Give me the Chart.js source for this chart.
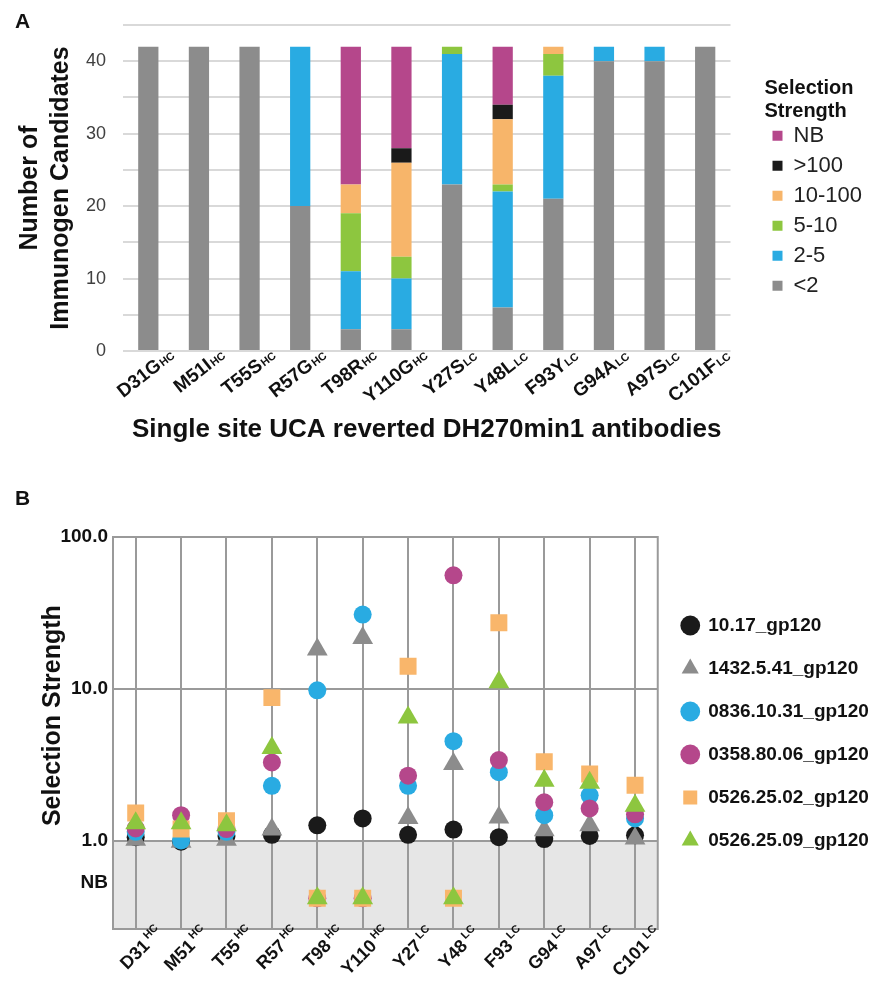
<!DOCTYPE html>
<html>
<head>
<meta charset="utf-8">
<script src="https://cdn.jsdelivr.net/npm/chart.js@4.4.1/dist/chart.umd.min.js"></script>
<style>
  body { margin: 0; background: #fff; }
  #wrap { position: relative; width: 877px; height: 984px; }
  .panel { position: absolute; font: bold 21px "Liberation Sans", Arial, sans-serif; color: #111; }
  canvas { position: absolute; left: 0; }
</style>
</head>
<body>
<div id="wrap">
  <canvas id="chartA" width="877" height="470" style="top:0"></canvas>
  <canvas id="chartB" width="877" height="514" style="top:470px"></canvas>
  <div class="panel" style="left:15px; top:9px">A</div>
  <div class="panel" style="left:15px; top:486px">B</div>
</div>
<script>
// ---- panel A: stacked counts per reverted antibody ----
const mutantsA = ['D31G', 'M51I', 'T55S', 'R57G', 'T98R', 'Y110G', 'Y27S', 'Y48L', 'F93Y', 'G94A', 'A97S', 'C101F'];
const chainA = ['HC', 'HC', 'HC', 'HC', 'HC', 'HC', 'LC', 'LC', 'LC', 'LC', 'LC', 'LC'];
const under2 = [42, 42, 42, 20, 3, 3, 23, 6, 21, 40, 40, 42];
const from2to5 = [0, 0, 0, 22, 8, 7, 18, 16, 17, 2, 2, 0];
const from5to10 = [0, 0, 0, 0, 8, 3, 1, 1, 3, 0, 0, 0];
const from10to100 = [0, 0, 0, 0, 4, 13, 0, 9, 1, 0, 0, 0];
const over100 = [0, 0, 0, 0, 0, 2, 0, 2, 0, 0, 0, 0];
const noBinding = [0, 0, 0, 0, 19, 14, 0, 8, 0, 0, 0, 0];

// ---- panel B: selection strength per immunogen ----
const sitesB = ['D31', 'M51', 'T55', 'R57', 'T98', 'Y110', 'Y27', 'Y48', 'F93', 'G94', 'A97', 'C101'];
const chainB = ['HC', 'HC', 'HC', 'HC', 'HC', 'HC', 'LC', 'LC', 'LC', 'LC', 'LC', 'LC'];
const NB = 0.42;        // plotted value for "no binding"
const NB_TICK = 0.53;   // where the NB label sits
const yTicksB = [NB_TICK, 1, 10, 100];
const gp10_17 = [1.06, 0.99, 1.08, 1.10, 1.27, 1.41, 1.10, 1.19, 1.06, 1.03, 1.08, 1.09];
const gp1432 = [1.02, 0.99, 1.02, 1.19, 18.2, 21.7, 1.42, 3.21, 1.43, 1.18, 1.27, 1.04];
const gp0836 = [1.15, 1.01, 1.15, 2.31, 9.8, 30.9, 2.31, 4.54, 2.84, 1.48, 2.0, 1.41];
const gp0358 = [1.21, 1.48, 1.2, 3.29, NB, NB, 2.69, 56, 3.41, 1.8, 1.64, 1.5];
const gp0526_02 = [1.53, 1.2, 1.36, 8.78, NB, NB, 14.1, NB, 27.3, 3.32, 2.76, 2.33];
const gp0526_09 = [1.31, 1.31, 1.27, 4.1, NB, NB, 6.5, NB, 11.1, 2.49, 2.42, 1.71];

Chart.defaults.font.family = '"Liberation Sans", Arial, sans-serif';

// rotated category labels with a small chain suffix
const rotatedLabels = {
  id: 'rotatedLabels',
  afterDraw(chart, args, opts) {
    const scale = chart.scales.x;
    const ctx = chart.ctx;
    ctx.save();
    ctx.fillStyle = opts.color;
    ctx.textBaseline = 'top';
    opts.labels.forEach((label, i) => {
      ctx.save();
      ctx.translate(scale.getPixelForValue(i) + opts.dx, scale.top + opts.dy);
      ctx.rotate(-opts.angle * Math.PI / 180);
      ctx.font = opts.font;
      ctx.textAlign = 'right';
      ctx.fillText(label, 0, 0);
      ctx.font = opts.subFont;
      ctx.textAlign = 'left';
      ctx.fillText(opts.subs[i], opts.gap, opts.subDy);
      ctx.restore();
    });
    ctx.restore();
  }
};

// grey band below 1.0 and box round the plot
const plotFrame = {
  id: 'plotFrame',
  beforeDraw(chart, args, opts) {
    const { ctx, chartArea: a, scales: { y } } = chart;
    const top = y.getPixelForValue(opts.shadeBelow);
    ctx.save();
    ctx.fillStyle = opts.shade;
    ctx.fillRect(a.left, top, a.right - a.left, a.bottom - top);
    ctx.restore();
  },
  beforeDatasetsDraw(chart, args, opts) {
    const { ctx, chartArea: a } = chart;
    ctx.save();
    ctx.strokeStyle = opts.color;
    ctx.lineWidth = opts.width;
    ctx.strokeRect(a.left, a.top, a.right - a.left, a.bottom - a.top);
    ctx.restore();
  }
};

new Chart(document.getElementById('chartA'), {
  type: 'bar',
  data: {
    labels: mutantsA,
    datasets: [
      { label: '<2', data: under2, backgroundColor: '#8c8c8c' },
      { label: '2-5', data: from2to5, backgroundColor: '#29abe2' },
      { label: '5-10', data: from5to10, backgroundColor: '#8dc63f' },
      { label: '10-100', data: from10to100, backgroundColor: '#f7b56a' },
      { label: '>100', data: over100, backgroundColor: '#1a1a1a' },
      { label: 'NB', data: noBinding, backgroundColor: '#b5478b' }
    ]
  },
  options: {
    responsive: false,
    animation: false,
    layout: { padding: { top: 25, right: 5, left: 0, bottom: 0 } },
    datasets: { bar: { categoryPercentage: 1, barPercentage: 0.4 } },
    scales: {
      x: {
        stacked: true,
        grid: { display: false },
        border: { display: false },
        ticks: { display: false },
        title: {
          display: true,
          text: 'Single site UCA reverted DH270min1 antibodies',
          color: '#111',
          font: { size: 26, weight: 'bold', lineHeight: 1.2 },
          padding: { top: 0, bottom: 25 }
        },
        afterFit(s) { s.height = 119; }
      },
      y: {
        stacked: true,
        min: 0,
        max: 45,
        ticks: {
          stepSize: 5,
          autoSkip: false,
          padding: 17,
          color: '#404040',
          font: { size: 18 },
          callback: v => (v % 10 === 0 && v < 45) ? v : ''
        },
        grid: { color: '#d9d9d9', lineWidth: 2, drawTicks: false },
        border: { display: false },
        title: {
          display: true,
          text: ['Number of', 'Immunogen Candidates'],
          color: '#111',
          font: { size: 25, weight: 'bold', lineHeight: 1.25 },
          padding: { top: 14, bottom: 0 }
        },
        afterFit(s) { s.width = 123; s.paddingTop = 0; }
      },
      gap: {
        position: 'right',
        grid: { display: false },
        border: { display: false },
        ticks: { display: false },
        afterFit(s) { s.width = 34; s.paddingTop = 0; }
      }
    },
    plugins: {
      tooltip: { enabled: false },
      legend: {
        position: 'right',
        fullSize: false,
        reverse: true,
        title: {
          display: true,
          position: 'start',
          text: ['Selection', 'Strength'],
          color: '#111',
          font: { size: 20, weight: 'bold', lineHeight: 1.17 },
          padding: { top: 7, bottom: 15 }
        },
        labels: {
          boxWidth: 10,
          boxHeight: 10,
          padding: 8,
          color: '#222',
          font: { size: 22 }
        }
      },
      rotatedLabels: {
        labels: mutantsA,
        subs: chainA,
        color: '#111',
        font: 'bold 19px "Liberation Sans", Arial, sans-serif',
        subFont: 'bold 11px "Liberation Sans", Arial, sans-serif',
        angle: 38,
        dx: 5,
        dy: 5,
        gap: 1,
        subDy: 6
      }
    }
  },
  plugins: [rotatedLabels]
});

const seriesB = [
  { label: '10.17_gp120', data: gp10_17, color: '#1a1a1a', style: 'circle', r: 9 },
  { label: '1432.5.41_gp120', data: gp1432, color: '#8c8c8c', style: 'triangle', r: 12 },
  { label: '0836.10.31_gp120', data: gp0836, color: '#29abe2', style: 'circle', r: 9 },
  { label: '0358.80.06_gp120', data: gp0358, color: '#b5478b', style: 'circle', r: 9 },
  { label: '0526.25.02_gp120', data: gp0526_02, color: '#f9b66b', style: 'rect', r: 12 },
  { label: '0526.25.09_gp120', data: gp0526_09, color: '#8dc63f', style: 'triangle', r: 12 }
];

new Chart(document.getElementById('chartB'), {
  type: 'line',
  data: {
    labels: sitesB,
    datasets: seriesB.map((s, i) => ({
      label: s.label,
      data: s.data,
      showLine: false,
      order: seriesB.length - i,
      backgroundColor: s.color,
      borderColor: s.color,
      borderWidth: 0,
      pointStyle: s.style,
      pointRadius: s.r,
      pointHoverRadius: s.r,
      pointBorderWidth: 0
    }))
  },
  options: {
    responsive: false,
    animation: false,
    layout: { padding: { top: 67, right: 0, left: 0, bottom: 0 } },
    scales: {
      x: {
        offset: true,
        grid: { offset: false, color: '#9a9a9a', lineWidth: 2, drawTicks: false },
        border: { display: false },
        ticks: { display: false },
        afterFit(s) { s.height = 55; }
      },
      y: {
        type: 'logarithmic',
        min: 0.264,
        max: 100,
        afterBuildTicks(s) { s.ticks = yTicksB.map(v => ({ value: v })); },
        ticks: {
          autoSkip: false,
          padding: 5,
          color: '#111',
          font: { size: 19, weight: 'bold' },
          callback: v => v === NB_TICK ? 'NB' : v.toFixed(1)
        },
        grid: {
          color: c => (c.tick && c.tick.value === NB_TICK) ? 'rgba(0,0,0,0)' : '#9a9a9a',
          lineWidth: 2,
          drawTicks: false
        },
        border: { display: false },
        title: {
          display: true,
          text: '     Selection Strength',
          color: '#111',
          font: { size: 25, weight: 'bold', lineHeight: 1.2 },
          padding: { top: 38, bottom: 0 }
        },
        afterFit(s) { s.width = 113; }
      }
    },
    plugins: {
      tooltip: { enabled: false },
      legend: {
        position: 'right',
        fullSize: false,
        labels: {
          usePointStyle: true,
          boxWidth: 17,
          boxHeight: 14,
          padding: 24,
          color: '#111',
          font: { size: 19, weight: 'bold' },
          sort: (a, b) => a.datasetIndex - b.datasetIndex
        }
      },
      plotFrame: { shadeBelow: 1, shade: '#e6e6e6', color: '#9a9a9a', width: 2 },
      rotatedLabels: {
        labels: sitesB,
        subs: chainB,
        color: '#111',
        font: 'bold 18px "Liberation Sans", Arial, sans-serif',
        subFont: 'bold 11px "Liberation Sans", Arial, sans-serif',
        angle: 45,
        dx: 5,
        dy: 8,
        gap: 3,
        subDy: -2
      }
    }
  },
  plugins: [plotFrame, rotatedLabels]
});
</script>
</body>
</html>
